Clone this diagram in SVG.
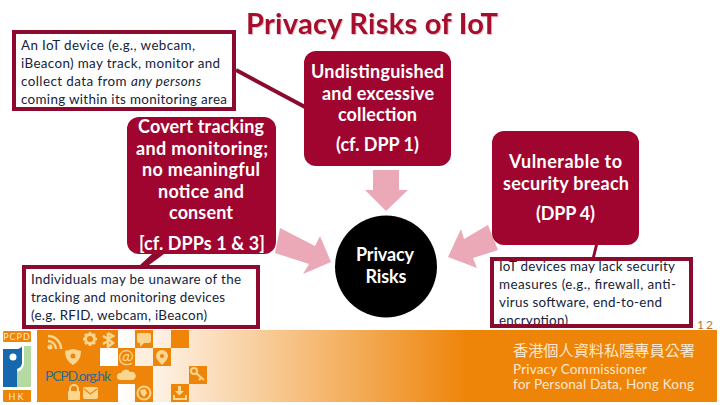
<svg xmlns="http://www.w3.org/2000/svg" width="720" height="405" viewBox="0 0 720 405">
<style>
text{font-family:Lato,"Noto Sans","Noto Sans CJK TC",sans-serif}
.n{fill:#a0052f}
.w{fill:#fff;font-weight:700;font-size:18px;text-anchor:middle}
.b{fill:#fff;stroke:none}
.f{fill:none;stroke:#8c0a2e;stroke-width:4}
.t{fill:#14233c;font-size:13.4px}
.a{fill:#eba9b7}
.c{fill:#8c0a2e}
.o{fill:#ee8408}
.i{fill:#fbd690}
.s{fill:#fde9cf}
</style>
<defs>
<linearGradient id="g" x1="118" x2="470" y1="0" y2="0" gradientUnits="userSpaceOnUse">
<stop offset="0" stop-color="#fff"/><stop offset="1" stop-color="#ee8408"/>
</linearGradient>
</defs>
<text x="246" y="34" font-size="29" font-weight="700" fill="#a50f2d" textLength="252" style="filter:drop-shadow(1px 1px 0 #eac4c8)">Privacy Risks of IoT</text>

<g id="banner">
<rect x="37" y="330" width="680" height="72" fill="url(#g)"/>
<rect class="o" x="37" y="330" width="81" height="72"/>
<rect class="o" x="135" y="330" width="18" height="18"/>
<rect class="o" x="171" y="330" width="18" height="18"/>
<rect class="o" x="118" y="348" width="17" height="18"/>
<rect class="o" x="153" y="348" width="18" height="18"/>
<rect class="o" x="118" y="366" width="35" height="18"/>
<rect class="o" x="189" y="366" width="18" height="18"/>
<rect class="o" x="135" y="384" width="18" height="18"/>
<rect class="o" x="171" y="384" width="18" height="18"/>
<rect x="100" y="348" width="18" height="18" fill="#fff"/>
<rect x="135" y="348" width="18" height="18" fill="#fdeedd"/>
<rect x="0" y="330" width="37" height="75" fill="#fff"/>
<rect class="o" x="3" y="331" width="28" height="11" rx="1"/>
<rect class="o" x="3" y="390" width="28" height="12" rx="1"/>
<text x="17" y="340" font-size="9" fill="#fde9cf" text-anchor="middle" letter-spacing="1">PCPD</text>
<text x="17" y="400" font-size="9" fill="#fde9cf" text-anchor="middle" letter-spacing="2">HK</text>
<path d="M3 349H18C22 348 22 346 22 346V362C22 366 20 368 17 369V387H3Z" fill="#1567ae"/>
<path d="M24 346H31V387H17V372C21 371 24 368 24 362Z" fill="#b5d9a3"/>
<circle cx="13" cy="357" r="3.5" fill="#fff"/>
<path d="M48 336a13 13 0 0 1 13 13M48 341a8 8 0 0 1 8 8" fill="none" stroke="#fbd690" stroke-width="2.5"/>
<circle class="i" cx="50" cy="347" r="2.5"/>
<path d="M90 332v14M83 339h14M85 334l10 10M95 334l-10 10" stroke="#fbd690" stroke-width="2.5"/>
<circle cx="90" cy="339" r="4.500" fill="#ee8408" stroke="#fbd690" stroke-width="3"/>
<path d="M108 333l5 3-5 3 5 4-5 4v-14M108 339l-5-3M108 341l-5 3" fill="none" stroke="#fbd690" stroke-width="2.5"/>
<rect class="i" x="137" y="333" width="14" height="10" rx="2"/>
<path class="i" d="M140 342v5l4-4z"/>
<path class="i" d="M65 351l8-2 8 2c0 7-3 11-8 14-5-3-8-7-8-14z"/>
<circle class="o" cx="73" cy="356" r="2.5"/>
<text x="126" y="363" font-size="19" fill="#fbd690" text-anchor="middle">@</text>
<path class="i" d="M162 350a6 6 0 0 1 6 6c0 3-3 6-6 9-3-3-6-6-6-9a6 6 0 0 1 6-6z"/>
<circle class="o" cx="162" cy="356" r="2"/>
<path class="i" d="M120 380a3.5 3.5 0 0 1 1-7 5 5 0 0 1 9-1 4 4 0 0 1 3 8z"/>
<text x="45" y="381" font-size="14" fill="#2f6d93" textLength="66">PCPD.org.hk</text>
<circle cx="194" cy="371" r="3" fill="none" stroke="#fbd690" stroke-width="2"/>
<path d="M196 373l8 7M201 378l-2 2" stroke="#fbd690" stroke-width="2"/>
<rect class="i" x="68" y="391" width="12" height="9" rx="1"/>
<path d="M70 391v-2a4 4 0 0 1 8 0v2" fill="none" stroke="#fbd690" stroke-width="2"/>
<rect class="i" x="83" y="387" width="15" height="12" rx="2"/>
<path d="M84 389l6.500 5 6.500-5" fill="none" stroke="#ee8408" stroke-width="1.300"/>
<circle cx="144" cy="393" r="6.500" fill="none" stroke="#fbd690" stroke-width="2"/>
<path class="i" d="M140 390l5-1 2 4-3 4-3-3z"/>
<path class="i" d="M178 386h3v5h3l-4.500 4.500-4.500-4.500h3zM173 395h2v3h10v-3h2v5h-14z"/>
<text x="513" y="356" font-size="15.200" class="s" textLength="182" font-family="Noto Sans CJK TC">香港個人資料私隱專員公署</text>
<text x="513" y="374" font-size="13.600" class="s" textLength="134">Privacy Commissioner</text>
<text x="513" y="389" font-size="13.600" class="s" textLength="181">for Personal Data, Hong Kong</text>
</g>

<g id="connectors">
<path d="M236 70L305 107" stroke="#8c0a2e" stroke-width="4" fill="none"/>
<polygon class="c" points="140,265 152,254 164,254 149,265"/>
<polygon class="c" points="592,257 595,245 598,245 595,257"/>
<polygon class="a" points="373,170 399,170 399,190 408,190 386,211 365,190 373,190"/>
<polygon class="a" points="280,228 315,246 320,236 331,262 303,274 309,264 275,253"/>
<polygon class="a" points="448,257 461,229 464,239 488,225 498,250 473,258 477,268"/>
</g>

<g id="note-device">
<rect class="b" x="14" y="32" width="220" height="77"/>
<text class="t" x="21" y="50" textLength="174">An IoT device (e.g., webcam,</text>
<text class="t" x="21" y="68" textLength="199">iBeacon) may track, monitor and</text>
<text class="t" x="21" y="86" textLength="180">collect data from <tspan font-style="italic">any persons</tspan></text>
<text class="t" x="21" y="104" textLength="206">coming within its monitoring area</text>
<rect class="f" x="14" y="32" width="220" height="77"/>
</g>

<g id="node-covert">
<rect class="n" x="127" y="117" width="149" height="137" rx="12"/>
<text class="w" x="201" y="133" textLength="126">Covert tracking</text>
<text class="w" x="202" y="155" textLength="132">and monitoring;</text>
<text class="w" x="201" y="176" textLength="118">no meaningful</text>
<text class="w" x="201" y="198" textLength="86">notice and</text>
<text class="w" x="201" y="219" textLength="64">consent</text>
<text class="w" x="202" y="250" textLength="126">[cf. DPPs 1 &amp; 3]</text>
</g>

<g id="node-collection">
<rect class="n" x="304" y="51" width="147" height="115" rx="12"/>
<text class="w" x="377.500" y="78" textLength="133">Undistinguished</text>
<text class="w" x="378" y="100" textLength="112">and excessive</text>
<text class="w" x="377.500" y="121" textLength="79">collection</text>
<text class="w" x="377.500" y="151" textLength="83">(cf. DPP 1)</text>
</g>

<g id="node-security">
<rect class="n" x="492" y="131" width="147" height="114" rx="12"/>
<text class="w" x="565.500" y="168" textLength="113">Vulnerable to</text>
<text class="w" x="566" y="190" textLength="126">security breach</text>
<text class="w" x="565.500" y="220" textLength="59">(DPP 4)</text>
</g>

<g id="node-risks">
<circle cx="386" cy="266.500" r="51" fill="#000"/>
<text class="w" x="385" y="261" textLength="58">Privacy</text>
<text class="w" x="386" y="283" textLength="41">Risks</text>
</g>

<g id="note-individuals">
<rect class="b" x="24" y="267" width="234" height="60"/>
<text class="t" x="31" y="284" textLength="210">Individuals may be unaware of the</text>
<text class="t" x="31" y="302" textLength="194">tracking and monitoring devices</text>
<text class="t" x="31" y="320" textLength="176">(e.g. RFID, webcam, iBeacon)</text>
<rect class="f" x="24" y="267" width="234" height="60"/>
</g>

<g id="note-iot">
<rect class="b" x="492" y="259" width="199" height="67"/>
<text class="t" x="499" y="271" textLength="176">IoT devices may lack security</text>
<text class="t" x="499" y="289" textLength="177">measures (e.g., firewall, anti-</text>
<text class="t" x="499" y="307" textLength="163">virus software, end-to-end</text>
<text class="t" x="499" y="325" textLength="69">encryption)</text>
<rect class="f" x="492" y="259" width="199" height="67"/>
</g>

<text x="697" y="329" font-size="12" fill="#b5733a" letter-spacing="2">12</text>
</svg>
